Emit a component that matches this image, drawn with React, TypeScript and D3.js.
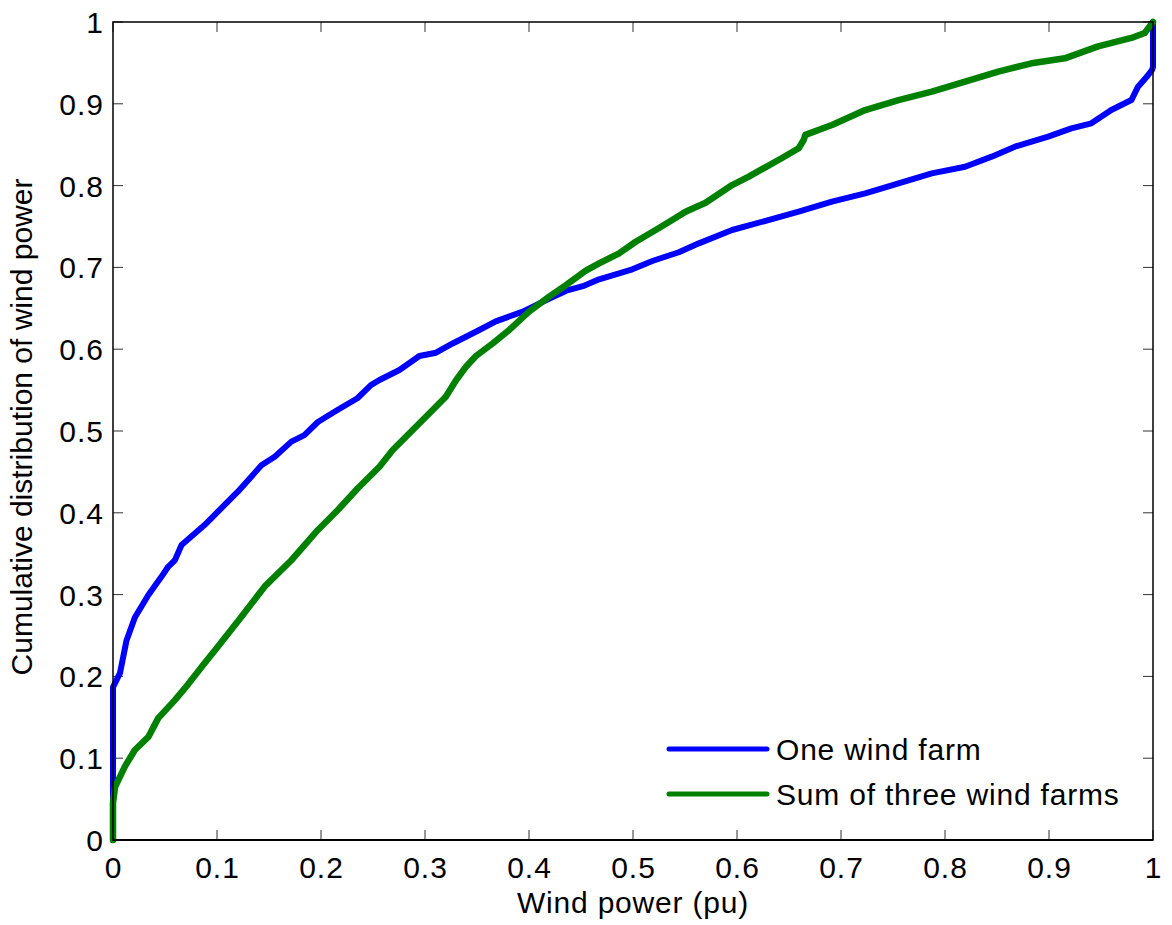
import React from "react";
import * as d3 from "d3";

// Empirical CDF of wind power output (x = power in pu, y = cumulative probability)
const oneFarmX = [0, 0, 0.0067, 0.013, 0.021, 0.034, 0.0467, 0.053, 0.0595, 0.0659, 0.088, 0.12, 0.1427, 0.1555, 0.1715, 0.184, 0.197, 0.215, 0.235, 0.248, 0.2562, 0.2754, 0.2946, 0.3106, 0.3266, 0.3522, 0.368, 0.394, 0.4166, 0.4358, 0.4518, 0.4674, 0.4994, 0.5186, 0.5441, 0.5633, 0.5953, 0.6593, 0.6913, 0.7233, 0.7553, 0.7873, 0.8193, 0.8449, 0.8672, 0.8992, 0.9215, 0.9407, 0.9599, 0.9792, 0.9856, 0.994, 0.999, 1, 1];
const oneFarmY = [0, 0.187, 0.204, 0.244, 0.272, 0.2995, 0.322, 0.334, 0.342, 0.3606, 0.385, 0.4258, 0.458, 0.4686, 0.487, 0.495, 0.511, 0.525, 0.54, 0.556, 0.5623, 0.5746, 0.5917, 0.5957, 0.607, 0.6235, 0.634, 0.646, 0.66, 0.6715, 0.677, 0.6854, 0.6977, 0.7078, 0.7185, 0.7294, 0.7457, 0.7681, 0.7804, 0.7906, 0.8028, 0.815, 0.8231, 0.8354, 0.8476, 0.8598, 0.87, 0.8761, 0.8924, 0.9046, 0.9209, 0.933, 0.9413, 0.945, 1];

const threeFarmsX = [0, 0, 0.002, 0.0115, 0.021, 0.034, 0.0435, 0.0595, 0.072, 0.088, 0.1, 0.1235, 0.1459, 0.1715, 0.197, 0.2162, 0.2354, 0.2562, 0.269, 0.2882, 0.3074, 0.32, 0.33, 0.3394, 0.349, 0.365, 0.381, 0.4, 0.4194, 0.4358, 0.4546, 0.4674, 0.4866, 0.5026, 0.5218, 0.5377, 0.5505, 0.5698, 0.5953, 0.6113, 0.6433, 0.6593, 0.6641, 0.6657, 0.6913, 0.7233, 0.7553, 0.7873, 0.8193, 0.8512, 0.8832, 0.9152, 0.9472, 0.9792, 0.992, 1];
const threeFarmsY = [0, 0.045, 0.065, 0.09, 0.11, 0.126, 0.149, 0.171, 0.19, 0.216, 0.235, 0.273, 0.31, 0.342, 0.379, 0.4034, 0.43, 0.4563, 0.4768, 0.5012, 0.5257, 0.5419, 0.5623, 0.5786, 0.5917, 0.607, 0.6235, 0.646, 0.6642, 0.6785, 0.696, 0.705, 0.7172, 0.7314, 0.7457, 0.758, 0.7681, 0.779, 0.8007, 0.811, 0.8337, 0.8456, 0.8557, 0.862, 0.874, 0.8924, 0.9046, 0.9148, 0.927, 0.9393, 0.9495, 0.9556, 0.9702, 0.9805, 0.9866, 1];

const xTicks = [0, 0.1, 0.2, 0.3, 0.4, 0.5, 0.6, 0.7, 0.8, 0.9, 1];
const yTicks = [0, 0.1, 0.2, 0.3, 0.4, 0.5, 0.6, 0.7, 0.8, 0.9, 1];

const seriesNames = ["One wind farm", "Sum of three wind farms"];
const seriesColors = ["#0000ff", "#008000"];
const seriesWidths = [6, 6.5];

const W = 1172;
const H = 925;
const left = 113;
const right = 1153;
const top = 22;
const bottom = 840;
const font = "'Liberation Sans', Arial, Helvetica, sans-serif";
const fs = 30;

export default function App() {
  const x = d3.scaleLinear().domain([0, 1]).range([left, right]);
  const y = d3.scaleLinear().domain([0, 1]).range([bottom, top]);
  const line = d3
    .line<[number, number]>()
    .x((d) => x(d[0]))
    .y((d) => y(d[1]));

  const series = [
    oneFarmX.map((v, i) => [v, oneFarmY[i]] as [number, number]),
    threeFarmsX.map((v, i) => [v, threeFarmsY[i]] as [number, number]),
  ];

  const tickLen = 10;

  return (
    <svg
      width={W}
      height={H}
      style={{ position: "absolute", left: 0, top: 0, display: "block", background: "#fff" }}
      fontFamily={font}
    >
      <rect x={0} y={0} width={W} height={H} fill="#fff" />

      {/* tick marks on all four sides, pointing inward */}
      <g stroke="#333" strokeWidth={1}>
        {xTicks.map((t) => (
          <g key={"xt" + t}>
            <line x1={x(t)} x2={x(t)} y1={bottom} y2={bottom - tickLen} />
            <line x1={x(t)} x2={x(t)} y1={top} y2={top + tickLen} />
          </g>
        ))}
        {yTicks.map((t) => (
          <g key={"yt" + t}>
            <line x1={left} x2={left + tickLen} y1={y(t)} y2={y(t)} />
            <line x1={right} x2={right - tickLen} y1={y(t)} y2={y(t)} />
          </g>
        ))}
      </g>

      {/* data curves */}
      <g>
        {series.map((s, i) => (
          <path
            key={seriesNames[i]}
            d={line(s) || ""}
            fill="none"
            stroke={seriesColors[i]}
            strokeWidth={seriesWidths[i]}
            strokeLinejoin="round"
            strokeLinecap="round"
          />
        ))}
      </g>

      {/* axes box */}
      <rect
        x={left}
        y={top}
        width={right - left}
        height={bottom - top}
        fill="none"
        stroke="#000"
        strokeWidth={1.5}
      />
      <line x1={left} x2={right} y1={bottom} y2={bottom} stroke="#000" strokeWidth={2} />

      {/* tick labels */}
      <g fontSize={fs} fill="#000" letterSpacing={1}>
        {xTicks.map((t) => (
          <text key={"xl" + t} x={x(t) + 0.5} y={878} textAnchor="middle">
            {String(t)}
          </text>
        ))}
        {yTicks.map((t) => (
          <text key={"yl" + t} x={left - 9} y={y(t) + 11} textAnchor="end">
            {String(t)}
          </text>
        ))}
      </g>

      {/* axis titles */}
      <text
        x={(left + right) / 2}
        y={913}
        textAnchor="middle"
        fontSize={fs}
        fill="#000"
        letterSpacing={0.8}
      >
        Wind power (pu)
      </text>
      <text
        transform={`translate(32, ${(top + bottom) / 2 - 4}) rotate(-90)`}
        textAnchor="middle"
        fontSize={fs}
        fill="#000"
      >
        Cumulative distribution of wind power
      </text>

      {/* legend */}
      <g fontSize={fs} fill="#000" letterSpacing={0.8}>
        {seriesNames.map((n, i) => (
          <g key={"lg" + n} transform={`translate(0, ${749 + i * 45})`}>
            <line
              x1={669}
              x2={767}
              y1={0}
              y2={0}
              stroke={seriesColors[i]}
              strokeWidth={5}
              strokeLinecap="round"
            />
            <text x={776} y={11}>
              {n}
            </text>
          </g>
        ))}
      </g>
    </svg>
  );
}
